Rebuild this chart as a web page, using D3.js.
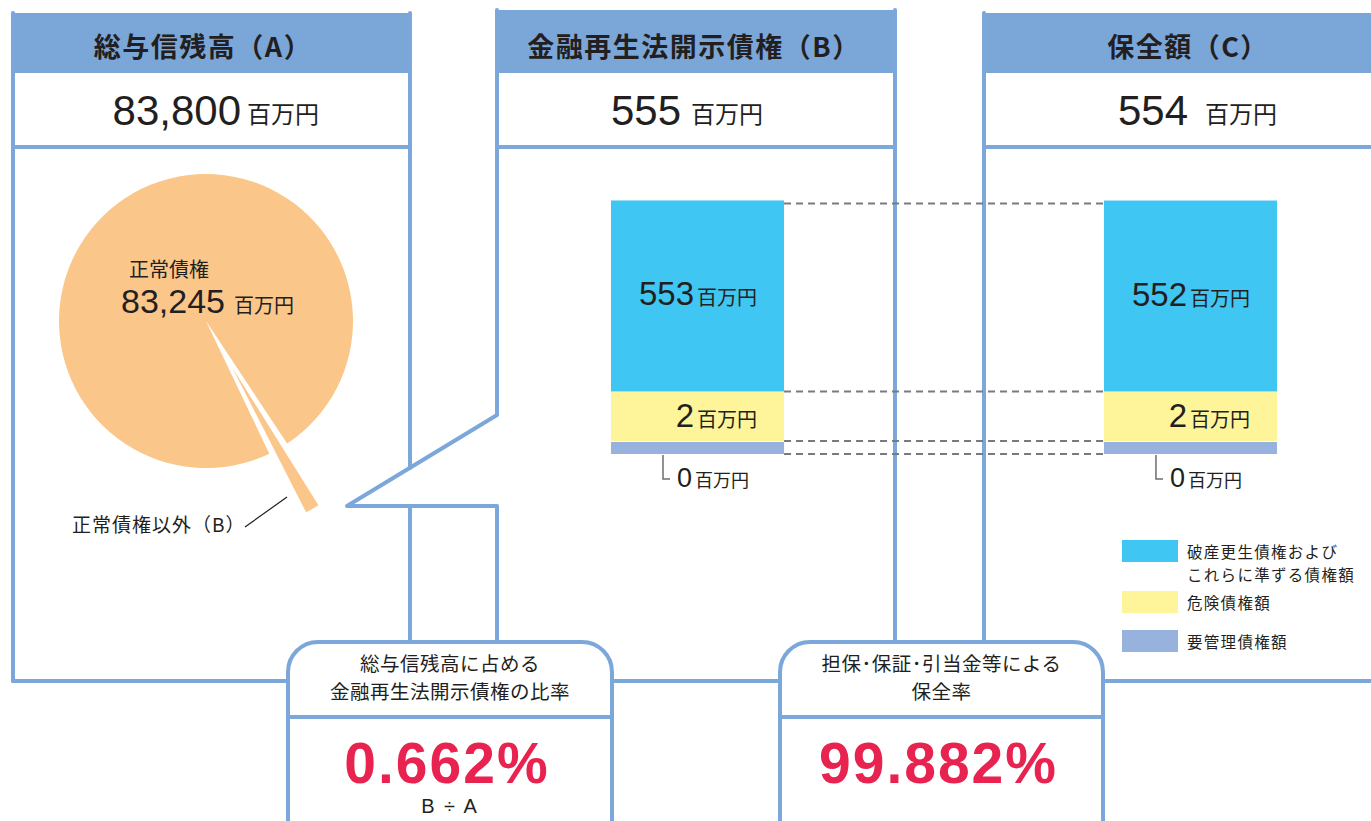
<!DOCTYPE html>
<html>
<head>
<meta charset="utf-8">
<title>金融再生法開示債権</title>
<script src="https://d3js.org/d3.v7.min.js"></script>
<style>
  body { margin: 0; background: #fff; }
  svg { display: block; }
</style>
</head>
<body>
<div id="chart"></div>
<script>
// values
var panelTitles = ["総与信残高（A）", "金融再生法開示債権（B）", "保全額（C）"];
var panelTotals = ["83,800", "555", "554"];
var unit = "百万円";
var pieLabels = ["正常債権以外（B）", "正常債権"];
var pieValues = [555, 83245];
var categories = ["要管理債権額", "危険債権額", "破産更生債権および\nこれらに準ずる債権額"];
var barGroups = ["B", "C"];
var disclosedB = [0, 2, 553];
var securedC = [0, 2, 552];
var ratioTitles = [["総与信残高に占める", "金融再生法開示債権の比率"], ["担保･保証･引当金等による", "保全率"]];
var ratioValues = ["0.662%", "99.882%"];
var ratioNotes = ["B ÷ A", ""];

var width = 1371, height = 821;
var lineColor = "#7ba7da", textColor = "#231f20";
var segColors = ["#97b3dd", "#fef59b", "#40c6f2"];
var cjk = "'Noto Sans CJK JP', 'Noto Sans', sans-serif";
var latin = "'Liberation Sans', Arial, sans-serif";

var svg = d3.select("#chart").append("svg")
    .attr("width", width).attr("height", height);

// ---- panel header fills
var headers = [
  {x: 11, y: 13, w: 401, cx: 203, numEnd: 241, unitStart: 247},
  {x: 495, y: 10, w: 402, cx: 694, numEnd: 681, unitStart: 691},
  {x: 982, y: 13, w: 400, cx: 1188, numEnd: 1188, unitStart: 1205}
];
svg.selectAll("rect.head").data(headers).enter().append("rect")
    .attr("class", "head")
    .attr("x", d => d.x).attr("y", d => d.y)
    .attr("width", d => d.w).attr("height", d => 73 - d.y)
    .attr("rx", (d, i) => i == 1 ? 4 : 0)
    .attr("fill", "#7ba6d8");
svg.selectAll("text.title").data(panelTitles).enter().append("text")
    .attr("x", (d, i) => headers[i].cx).attr("y", 57)
    .attr("text-anchor", "middle")
    .style("font-family", cjk).style("font-weight", 700).style("font-size", "27px")
    .style("letter-spacing", "1.5px")
    .attr("fill", textColor)
    .text(d => d);
svg.selectAll("text.total").data(panelTotals).enter().append("text")
    .attr("x", (d, i) => headers[i].numEnd).attr("y", 125)
    .attr("text-anchor", "end")
    .style("font-family", latin).style("font-size", "42px")
    .attr("fill", textColor).text(d => d);
svg.selectAll("text.totunit").data(panelTotals).enter().append("text")
    .attr("x", (d, i) => headers[i].unitStart).attr("y", 123)
    .style("font-family", cjk).style("font-size", "24px")
    .attr("fill", textColor).text(unit);

// ---- frame lines
var frame = [
  "M13,681 V13", "M410,13 V468", "M410,506 V642", "M13,681 H288", "M13,147 H410",
  "M497,642 V506 H347 L497,415 V10", "M895,10 V642", "M497,147 H895",
  "M612,681 H780",
  "M984,642 V13", "M984,147 H1380", "M1103,681 H1380"
];
svg.selectAll("path.frame").data(frame).enter().append("path")
    .attr("d", d => d)
    .attr("fill", "none").attr("stroke", lineColor).attr("stroke-width", 4)
    .attr("stroke-linejoin", "round").attr("stroke-linecap", "round");

// ---- pie of total credit
var pieCx = 206, pieCy = 321, pieR = 147;
var deg = Math.PI / 180;
var bCenter = 150.5 * deg;
var bShare = 2 * Math.PI * pieValues[0] / d3.sum(pieValues);
var pie = d3.pie().sort(null)
    .startAngle(bCenter - bShare / 2).endAngle(bCenter - bShare / 2 + 2 * Math.PI);
var arcs = pie(pieValues);
var gPie = svg.append("g").attr("transform", "translate(" + pieCx + "," + pieCy + ")");
var cut = 2.8 * deg;
gPie.append("path")
    .attr("d", d3.arc().innerRadius(0).outerRadius(pieR)({
      startAngle: arcs[1].startAngle + cut, endAngle: arcs[1].endAngle - cut}))
    .attr("fill", "#fbc68a");
// exploded slice, kept visible with a minimum angle
var mid = (arcs[0].startAngle + arcs[0].endAngle) / 2;
var half = Math.max((arcs[0].endAngle - arcs[0].startAngle) / 2, 2.5 * deg);
var explode = 53;
gPie.append("path")
    .attr("transform", "translate(" + (Math.sin(mid) * explode) + "," + (-Math.cos(mid) * explode) + ")")
    .attr("d", d3.arc().innerRadius(0).outerRadius(163)({startAngle: mid - half, endAngle: mid + half}))
    .attr("fill", "#fbc68a");

svg.append("text").attr("x", 129).attr("y", 277)
    .style("font-family", cjk).style("font-size", "20px").attr("fill", textColor)
    .text(pieLabels[1]);
var normTxt = svg.append("text").attr("x", 121).attr("y", 313).attr("fill", textColor);
normTxt.append("tspan").style("font-family", latin).style("font-size", "34px")
    .text(d3.format(",")(pieValues[1]));
normTxt.append("tspan").attr("dx", 9).style("font-family", cjk).style("font-size", "20px").text(unit);
svg.append("text").attr("x", 72).attr("y", 532)
    .style("font-family", cjk).style("font-size", "19px").style("letter-spacing", "1px")
    .attr("fill", textColor)
    .text(pieLabels[0]);
svg.append("line").attr("x1", 245).attr("y1", 527).attr("x2", 287).attr("y2", 497)
    .attr("stroke", textColor).attr("stroke-width", 1.2);

// ---- stacked bars B and C
var x = d3.scaleBand().domain(barGroups).range([611, 1277]).paddingInner(0.649).paddingOuter(0);
var h = d3.scalePow().exponent(0.24).domain([0, d3.max(disclosedB)]).range([0, 191]);
var minH = 12, base = 454;
function stack(vals) {
  var y = base, out = [];
  vals.forEach(function(v, i) {
    var hh = Math.max(h(v), minH);
    out.push({i: i, v: v, y0: y, y1: y - hh});
    y = y - hh - (i == 0 ? 1 : 0);
  });
  return out;
}
var barData = [disclosedB, securedC].map(function(vals, k) {
  return {group: barGroups[k], segs: stack(vals)};
});

// dashed connectors between the bars
var segsB = barData[0].segs;
var dashYs = [base].concat(segsB.map(s => s.y1)).map((y, i, a) => i == a.length - 1 ? y + 3 : y);
dashYs[1] = segsB[0].y1 - 1;
svg.selectAll("line.dash").data(dashYs).enter().append("line")
    .attr("x1", x("B") + x.bandwidth()).attr("x2", x("C"))
    .attr("y1", d => d).attr("y2", d => d)
    .attr("stroke", "#7a7a7a").attr("stroke-width", 2).attr("stroke-dasharray", "7,5");

var gBars = svg.selectAll("g.bar").data(barData).enter().append("g");
gBars.selectAll("rect").data(d => d.segs).enter().append("rect")
    .attr("x", function() { return x(d3.select(this.parentNode).datum().group); })
    .attr("width", x.bandwidth())
    .attr("y", d => d.y1).attr("height", d => d.y0 - d.y1)
    .attr("fill", d => segColors[d.i]);

gBars.each(function(b) {
  var g = d3.select(this), right = x(b.group) + x.bandwidth() - 27;
  b.segs.forEach(function(s) {
    if (s.i == 0) {
      var bx = x(b.group) + 52;
      g.append("path").attr("d", "M" + bx + "," + (base + 1) + " V" + (base + 25) + " H" + (bx + 7))
          .attr("fill", "none").attr("stroke", "#6d6d6d").attr("stroke-width", 1.5);
      var t0 = g.append("text").attr("x", bx + 14).attr("y", base + 33).attr("fill", textColor);
      t0.append("tspan").style("font-family", latin).style("font-size", "27px").text(s.v);
      t0.append("tspan").attr("dx", 3).style("font-family", cjk).style("font-size", "18px").text(unit);
    } else {
      var ty = s.i == 2 ? s.y1 + 105 : s.y1 + 36;
      var t = g.append("text").attr("x", right).attr("y", ty)
          .attr("text-anchor", "end").attr("fill", textColor);
      t.append("tspan").style("font-family", latin).style("font-size", "33px").text(s.v);
      t.append("tspan").attr("dx", 3).style("font-family", cjk).style("font-size", "20px").text(unit);
    }
  });
});

// ---- legend
var legend = svg.selectAll("g.leg").data(categories.slice().reverse()).enter().append("g")
    .attr("transform", (d, i) => "translate(1122," + [540, 591, 630][i] + ")");
legend.append("rect").attr("width", 56).attr("height", 22)
    .attr("fill", (d, i) => segColors[2 - i]);
legend.each(function(d) {
  var g = d3.select(this);
  d.split("\n").forEach(function(line, j) {
    g.append("text").attr("x", 65).attr("y", 18 + j * 23)
        .style("font-family", cjk).style("font-size", "15.5px").style("letter-spacing", "1.3px")
        .attr("fill", textColor).text(line);
  });
});

// ---- ratio boxes
var boxes = [{x: 288, w: 324}, {x: 780, w: 323}];
var gBox = svg.selectAll("g.box").data(boxes).enter().append("g");
gBox.append("rect").attr("x", d => d.x).attr("y", 642).attr("width", d => d.w).attr("height", 230)
    .attr("rx", 30).attr("fill", "#fff").attr("stroke", lineColor).attr("stroke-width", 4);
gBox.append("line").attr("x1", d => d.x).attr("x2", d => d.x + d.w).attr("y1", 717).attr("y2", 717)
    .attr("stroke", lineColor).attr("stroke-width", 4);
gBox.each(function(b, k) {
  var g = d3.select(this), cx = b.x + b.w / 2;
  ratioTitles[k].forEach(function(line, j) {
    g.append("text").attr("x", cx).attr("y", 671 + j * 28).attr("text-anchor", "middle")
        .style("font-family", cjk).style("font-size", "19.5px").style("letter-spacing", "0.5px")
        .attr("fill", textColor).text(line);
  });
  g.append("text").attr("x", cx - 3).attr("y", 783).attr("text-anchor", "middle")
      .style("font-family", latin).style("font-weight", 700).style("font-size", "57px")
      .style("letter-spacing", "2px").attr("fill", "#e8234f").text(ratioValues[k]);
  if (ratioNotes[k]) {
    g.append("text").attr("x", cx).attr("y", 813).attr("text-anchor", "middle")
        .style("font-family", latin).style("font-size", "20px").style("letter-spacing", "2px")
        .attr("fill", textColor).text(ratioNotes[k]);
  }
});
</script>
</body>
</html>
